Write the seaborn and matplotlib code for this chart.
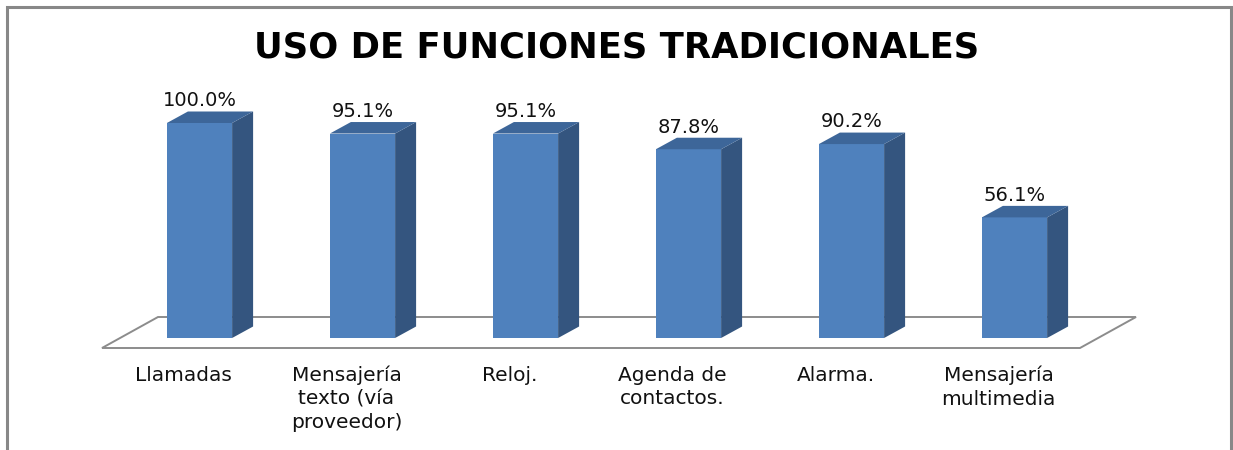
import matplotlib
matplotlib.use("Agg")
import matplotlib.pyplot as plt
import matplotlib.patches as mpatches
import seaborn as sns
import pandas as pd

categories = ["Llamadas", "Mensajería\ntexto (vía\nproveedor)", "Reloj.",
              "Agenda de\ncontactos.", "Alarma.", "Mensajería\nmultimedia"]
values = [100.0, 95.1, 95.1, 87.8, 90.2, 56.1]
value_labels = ["100.0%", "95.1%", "95.1%", "87.8%", "90.2%", "56.1%"]
title = "USO DE FUNCIONES TRADICIONALES"

FRONT = "#4F81BD"
SIDE = "#34557F"
TOP = "#3D6699"
FONT = "DejaVu Sans"

sns.set_theme(style="white")
plt.rcParams["font.family"] = [FONT]

fig = plt.figure(figsize=(12.33, 4.5), dpi=100)
ax = fig.add_axes([0, 0, 1, 1])

df = pd.DataFrame({"cat": categories, "val": values})
sns.barplot(data=df, x="cat", y="val", color=FRONT, width=0.4, ax=ax,
            saturation=1, zorder=3, linewidth=0)
bars = list(ax.patches)

# pixel-to-data mapping: x_px = 199.5 + 163*x ; y_px(from top) = 338 - 2.15*v
ax.set_xlim((0 - 199.5) / 163, (1233 - 199.5) / 163)
ax.set_ylim((338 - 450) / 2.15, 338 / 2.15)
ax.axis("off")

# 3D depth offsets (data units)
dx, dy = 21 / 163, 11.5 / 2.15

# floor
fx0, fx1 = (102 - 199.5) / 163, (1080 - 199.5) / 163
fy0 = (338 - 348) / 2.15
fdx, fdy = 56 / 163, 31 / 2.15
floor = mpatches.Polygon([(fx0, fy0), (fx1, fy0), (fx1 + fdx, fy0 + fdy), (fx0 + fdx, fy0 + fdy)],
                         closed=True, facecolor="white", edgecolor="#8C8C8C", linewidth=1.4, zorder=1)
ax.add_patch(floor)

for i, p in enumerate(bars):
    x, y, w, h = p.get_x(), p.get_y(), p.get_width(), p.get_height()
    side = mpatches.Polygon([(x + w, y), (x + w + dx, y + dy), (x + w + dx, y + h + dy), (x + w, y + h)],
                            closed=True, facecolor=SIDE, edgecolor="none", zorder=3)
    top = mpatches.Polygon([(x, y + h), (x + w, y + h), (x + w + dx, y + h + dy), (x + dx, y + h + dy)],
                           closed=True, facecolor=TOP, edgecolor="none", zorder=3)
    ax.add_patch(side)
    ax.add_patch(top)
    ax.text(x + w / 2, y + h + dy + 0.5, value_labels[i], ha="center", va="bottom",
            fontsize=14, color="#111111", family=FONT)
    ax.text(x + w / 2 - 16 / 163, -13.0, categories[i], ha="center", va="top",
            fontsize=14.5, color="#111111", family=FONT, linespacing=1.3)

fig.text(0.5, 1 - 47 / 450, title, ha="center", va="center", fontsize=25.5,
         fontweight="bold", color="black", family=FONT)

border = mpatches.Rectangle((7 / 1233, -0.1), (1231 - 7) / 1233, 1.1 - 7 / 450,
                            transform=fig.transFigure, fill=False, edgecolor="#888888",
                            linewidth=2.2, clip_on=False)
fig.patches.append(border)

fig.savefig("out.png", dpi=100, facecolor="white")
